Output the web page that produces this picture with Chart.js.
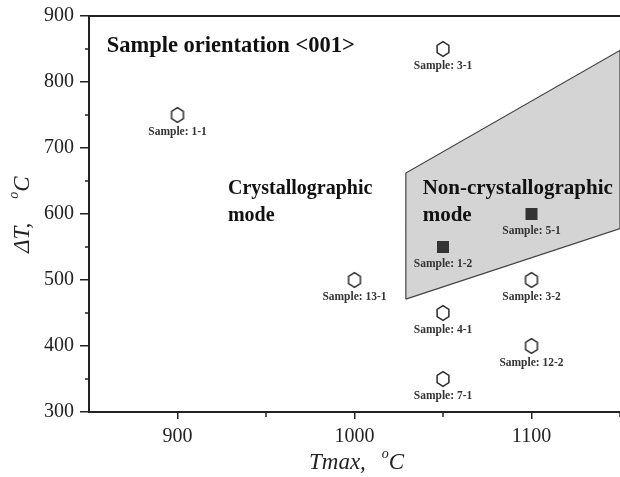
<!DOCTYPE html>
<html>
<head>
<meta charset="utf-8">
<script src="https://cdn.jsdelivr.net/npm/chart.js@4.4.1/dist/chart.umd.min.js"></script>
<style>
  html, body { margin: 0; padding: 0; background: #fff; }
  canvas { display: block; }
</style>
</head>
<body>
<canvas id="myChart" width="620" height="477"></canvas>
<script>
// open hexagon samples
const hexX = [900, 1050, 1000, 1050, 1050, 1100, 1100];
const hexY = [750, 850, 500, 450, 350, 500, 400];
const hexLabels = ["Sample: 1-1", "Sample: 3-1", "Sample: 13-1", "Sample: 4-1", "Sample: 7-1", "Sample: 3-2", "Sample: 12-2"];

// filled square samples
const sqX = [1050, 1100];
const sqY = [550, 600];
const sqLabels = ["Sample: 1-2", "Sample: 5-1"];

// shaded non-crystallographic region (closed polygon)
const regionX = [1029, 1029, 1150, 1150, 1029];
const regionY = [471, 662, 848, 578, 471];

// axis ticks
const xMajor = [900, 1000, 1100];
const xMinor = [950, 1050, 1150];
const yMajor = [300, 400, 500, 600, 700, 800, 900];
const yMinor = [350, 450, 550, 650, 750, 850];

// text notes in data coordinates
const notes = [
  { text: "Sample orientation <001>", x: 860, y: 845, size: 22.5 },
  { text: "Crystallographic", x: 928.5, y: 630, size: 20 },
  { text: "mode", x: 928.5, y: 590, size: 20 },
  { text: "Non-crystallographic", x: 1038.5, y: 630, size: 21 },
  { text: "mode", x: 1038.5, y: 590, size: 21 },
];

const SERIF = "'Liberation Serif', 'Times New Roman', serif";
const INK = "#222";

function toPoints(xs, ys) {
  return xs.map((x, i) => ({ x: x, y: ys[i] }));
}

// hexagon marker as a small canvas
function hexMarker() {
  const c = document.createElement("canvas");
  c.width = 18;
  c.height = 18;
  const g = c.getContext("2d");
  g.beginPath();
  for (let i = 0; i < 6; i++) {
    const a = Math.PI / 2 + (i * Math.PI) / 3;
    const px = 9 + 6.8 * Math.cos(a);
    const py = 9 - 7.3 * Math.sin(a);
    if (i === 0) g.moveTo(px, py);
    else g.lineTo(px, py);
  }
  g.closePath();
  g.fillStyle = "#fff";
  g.fill();
  g.lineWidth = 1.5;
  g.strokeStyle = "#2a2a2a";
  g.stroke();
  return c;
}

// labels under points, notes, minor ticks, axis titles, top frame
const extrasPlugin = {
  id: "extras",
  afterDatasetsDraw(chart) {
    const { ctx, chartArea, scales } = chart;
    const xs = scales.x;
    const ys = scales.y;
    ctx.save();

    // sample labels
    ctx.font = "bold 11.5px " + SERIF;
    ctx.fillStyle = "#333";
    ctx.textAlign = "center";
    ctx.textBaseline = "middle";
    hexX.forEach((v, i) => {
      ctx.fillText(hexLabels[i], xs.getPixelForValue(v), ys.getPixelForValue(hexY[i]) + 17.5);
    });
    sqX.forEach((v, i) => {
      ctx.fillText(sqLabels[i], xs.getPixelForValue(v), ys.getPixelForValue(sqY[i]) + 17.5);
    });

    // notes
    ctx.fillStyle = "#111";
    ctx.textAlign = "left";
    ctx.textBaseline = "alphabetic";
    notes.forEach((n) => {
      ctx.font = "bold " + n.size + "px " + SERIF;
      ctx.fillText(n.text, xs.getPixelForValue(n.x), ys.getPixelForValue(n.y));
    });

    // top frame line
    ctx.strokeStyle = INK;
    ctx.lineWidth = 2;
    ctx.beginPath();
    ctx.moveTo(chartArea.left, chartArea.top);
    ctx.lineTo(chartArea.right, chartArea.top);
    ctx.stroke();

    // minor ticks
    ctx.lineWidth = 1.5;
    ctx.beginPath();
    xMinor.forEach((v) => {
      const px = Math.round(xs.getPixelForValue(v));
      ctx.moveTo(px, chartArea.bottom);
      ctx.lineTo(px, chartArea.bottom + 5);
    });
    yMinor.forEach((v) => {
      const py = Math.round(ys.getPixelForValue(v));
      ctx.moveTo(chartArea.left - 4, py);
      ctx.lineTo(chartArea.left, py);
    });
    ctx.stroke();

    // axis titles
    ctx.fillStyle = INK;
    // x title
    ctx.textAlign = "left";
    ctx.font = "italic 23px " + SERIF;
    let tx = 309;
    const ty = 469;
    ctx.fillText("Tmax,", tx, ty);
    tx += ctx.measureText("Tmax,").width + 16;
    ctx.font = "italic 14px " + SERIF;
    ctx.fillText("o", tx, ty - 11);
    tx += ctx.measureText("o").width;
    ctx.font = "italic 23px " + SERIF;
    ctx.fillText("C", tx, ty);

    // y title (rotated)
    ctx.translate(29, 253);
    ctx.rotate(-Math.PI / 2);
    let ry = 0;
    ctx.font = "italic 23px " + SERIF;
    ctx.fillText("\u0394T,", ry, 0);
    ry += ctx.measureText("\u0394T,").width + 24;
    ctx.font = "italic 14px " + SERIF;
    ctx.fillText("o", ry, -11);
    ry += ctx.measureText("o").width;
    ctx.font = "italic 23px " + SERIF;
    ctx.fillText("C", ry, 0);

    ctx.restore();
  },
};

const config = {
  type: "scatter",
  data: {
    datasets: [
      {
        label: "open",
        data: toPoints(hexX, hexY),
        pointStyle: hexMarker(),
        pointRadius: 7,
        pointHoverRadius: 7,
      },
      {
        label: "filled",
        data: toPoints(sqX, sqY),
        pointStyle: "rect",
        pointRadius: 8.5,
        pointHoverRadius: 8.5,
        backgroundColor: "#333",
        borderColor: "#333",
        borderWidth: 0,
      },
      {
        type: "line",
        label: "region",
        data: toPoints(regionX, regionY),
        showLine: true,
        fill: "shape",
        backgroundColor: "#d4d4d4",
        borderColor: "#444",
        borderWidth: 1.2,
        pointRadius: 0,
        tension: 0,
      },
    ],
  },
  options: {
    responsive: false,
    animation: false,
    devicePixelRatio: 1,
    layout: { autoPadding: false, padding: { top: 16, right: 0, left: 0, bottom: 0 } },
    plugins: {
      legend: { display: false },
      title: { display: false },
      tooltip: { enabled: false },
    },
    scales: {
      x: {
        type: "linear",
        min: 850,
        max: 1150,
        afterBuildTicks: (scale) => {
          scale.ticks = xMajor.map((v) => ({ value: v }));
        },
        ticks: {
          font: { family: SERIF, size: 20, lineHeight: 1 },
          color: INK,
          padding: 8,
          maxRotation: 0,
          callback: (v) => String(v),
        },
        grid: { drawOnChartArea: false, tickLength: 7, color: INK, lineWidth: 1.5 },
        border: { color: INK, width: 2 },
        afterFit: (scale) => {
          scale.height = 65;
        },
      },
      y: {
        type: "linear",
        min: 300,
        max: 900,
        afterBuildTicks: (scale) => {
          scale.ticks = yMajor.map((v) => ({ value: v }));
        },
        ticks: {
          font: { family: SERIF, size: 20, lineHeight: 1 },
          color: INK,
          padding: 6,
          callback: (v) => String(v),
        },
        grid: { drawOnChartArea: false, tickLength: 9, color: INK, lineWidth: 1.5 },
        border: { color: INK, width: 2 },
        afterFit: (scale) => {
          scale.width = 89;
        },
      },
    },
  },
  plugins: [extrasPlugin],
};

const ctx = document.getElementById("myChart").getContext("2d");
new Chart(ctx, config);
</script>
</body>
</html>
